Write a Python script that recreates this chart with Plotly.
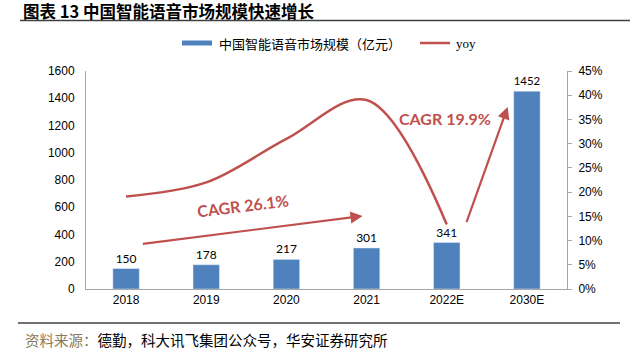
import plotly.graph_objects as go

categories = ["2018", "2019", "2020", "2021", "2022E", "2030E"]
market_size = [150, 178, 217, 301, 341, 1452]
yoy_cats = ["2018", "2019", "2020", "2021", "2022E"]
yoy = [0.191, 0.22, 0.31, 0.39, 0.133]
left_ticks = [0, 200, 400, 600, 800, 1000, 1200, 1400, 1600]
right_ticks = [0, 0.05, 0.10, 0.15, 0.20, 0.25, 0.30, 0.35, 0.40, 0.45]

BLUE = "#4F81BD"
RED = "#C0504D"
GRID = "#A6A6A6"

PL, PT, PW, PH = 86, 71, 481, 218   # plot area in window pixels


def px(xp):
    return (xp - PL) / PW


def py(yp):
    return (PT + PH - yp) / PH


fig = go.Figure()
fig.add_trace(go.Bar(
    x=categories, y=market_size, name="中国智能语音市场规模（亿元）",
    marker=dict(color=BLUE), width=0.33,
    text=[str(v) for v in market_size], textposition="outside",
    textfont=dict(family="Lato, Liberation Sans", size=12, color="#000000"),
    cliponaxis=False, showlegend=False,
))
fig.add_trace(go.Scatter(
    x=yoy_cats, y=yoy, name="yoy", yaxis="y2", mode="lines",
    line=dict(color=RED, width=2.5, shape="spline", smoothing=1.0),
    showlegend=False,
))

W, H = 640, 357
fig.update_layout(
    width=W, height=H,
    margin=dict(l=PL, r=W - PL - PW, t=PT, b=H - PT - PH, pad=0),
    paper_bgcolor="white", plot_bgcolor="white",
    font=dict(family="Liberation Sans, Arial", size=12, color="#000000"),
    xaxis=dict(
        type="category", showgrid=False, showline=True, linecolor=GRID, linewidth=1,
        ticks="", tickfont=dict(size=12), range=[-0.5, 5.5],
    ),
    yaxis=dict(
        range=[0, 1600], tickvals=left_ticks, showgrid=False, showline=True,
        linecolor=GRID, linewidth=1, ticks="", ticklabelstandoff=8,
        tickfont=dict(size=12), zeroline=False,
    ),
    yaxis2=dict(
        range=[0, 0.45], tickvals=right_ticks, tickformat=".0%", overlaying="y",
        side="right", showgrid=False, showline=True, linecolor=GRID, linewidth=1,
        ticks="outside", ticklen=4, tickcolor=GRID, ticklabelstandoff=4,
        tickfont=dict(size=12), zeroline=False,
    ),
)

# Title and top rule
fig.add_annotation(xref="paper", yref="paper", x=px(21), y=py(11),
                   xanchor="left", yanchor="middle", showarrow=False,
                   text="<b>图表 13 中国智能语音市场规模快速增长</b>",
                   font=dict(family="Noto Sans CJK SC", size=16.5, color="#000000"))
fig.add_shape(type="line", xref="paper", yref="paper", x0=px(20), x1=px(630),
              y0=py(20.5), y1=py(20.5), line=dict(color="#404040", width=1.5))

# legend (manual)
fig.add_shape(type="rect", xref="paper", yref="paper", x0=px(182), x1=px(212),
              y0=py(45.5), y1=py(40.5), fillcolor=BLUE, line=dict(width=0))
fig.add_annotation(xref="paper", yref="paper", x=px(217), y=py(43),
                   xanchor="left", yanchor="middle", showarrow=False,
                   text="中国智能语音市场规模（亿元）",
                   font=dict(family="Noto Sans CJK SC", size=13, color="#000000"))
fig.add_shape(type="line", xref="paper", yref="paper", x0=px(420), x1=px(450),
              y0=py(43), y1=py(43), line=dict(color=RED, width=2.5))
fig.add_annotation(xref="paper", yref="paper", x=px(454), y=py(43),
                   xanchor="left", yanchor="middle", showarrow=False,
                   text="yoy", font=dict(family="Liberation Serif", size=13, color="#000000"))

# CAGR arrows
fig.add_annotation(x=2.95, y=536, ax=0.19, ay=330, xref="x", yref="y", axref="x", ayref="y",
                   showarrow=True, arrowhead=2, arrowsize=1.1, arrowwidth=2.2, arrowcolor=RED, text="")
fig.add_annotation(x=1.46, y=612, xref="x", yref="y", showarrow=False, textangle=-7,
                   text="<b>CAGR 26.1%</b>", font=dict(family="Lato", size=16, color=RED))
fig.add_annotation(x=4.76, y=1336, ax=4.24, ay=480, xref="x", yref="y", axref="x", ayref="y",
                   showarrow=True, arrowhead=2, arrowsize=1.1, arrowwidth=2.2, arrowcolor=RED, text="")
fig.add_annotation(x=3.98, y=1250, xref="x", yref="y", showarrow=False,
                   text="<b>CAGR 19.9%</b>", font=dict(family="Lato", size=16, color=RED))

# bottom rule and source
fig.add_shape(type="line", xref="paper", yref="paper", x0=px(18), x1=px(620),
              y0=py(323), y1=py(323), line=dict(color="#404040", width=1.5))
fig.add_annotation(xref="paper", yref="paper", x=px(23), y=py(339),
                   xanchor="left", yanchor="middle", showarrow=False,
                   text="<span style='color:#8a7a5a'>资料来源：</span>德勤，科大讯飞集团公众号，华安证券研究所",
                   font=dict(family="Noto Sans CJK SC", size=14.5, color="#000000"))

fig.write_html("out.html", config={"displayModeBar": False},
               post_script="document.body.style.margin='0';document.body.style.padding='0';")
